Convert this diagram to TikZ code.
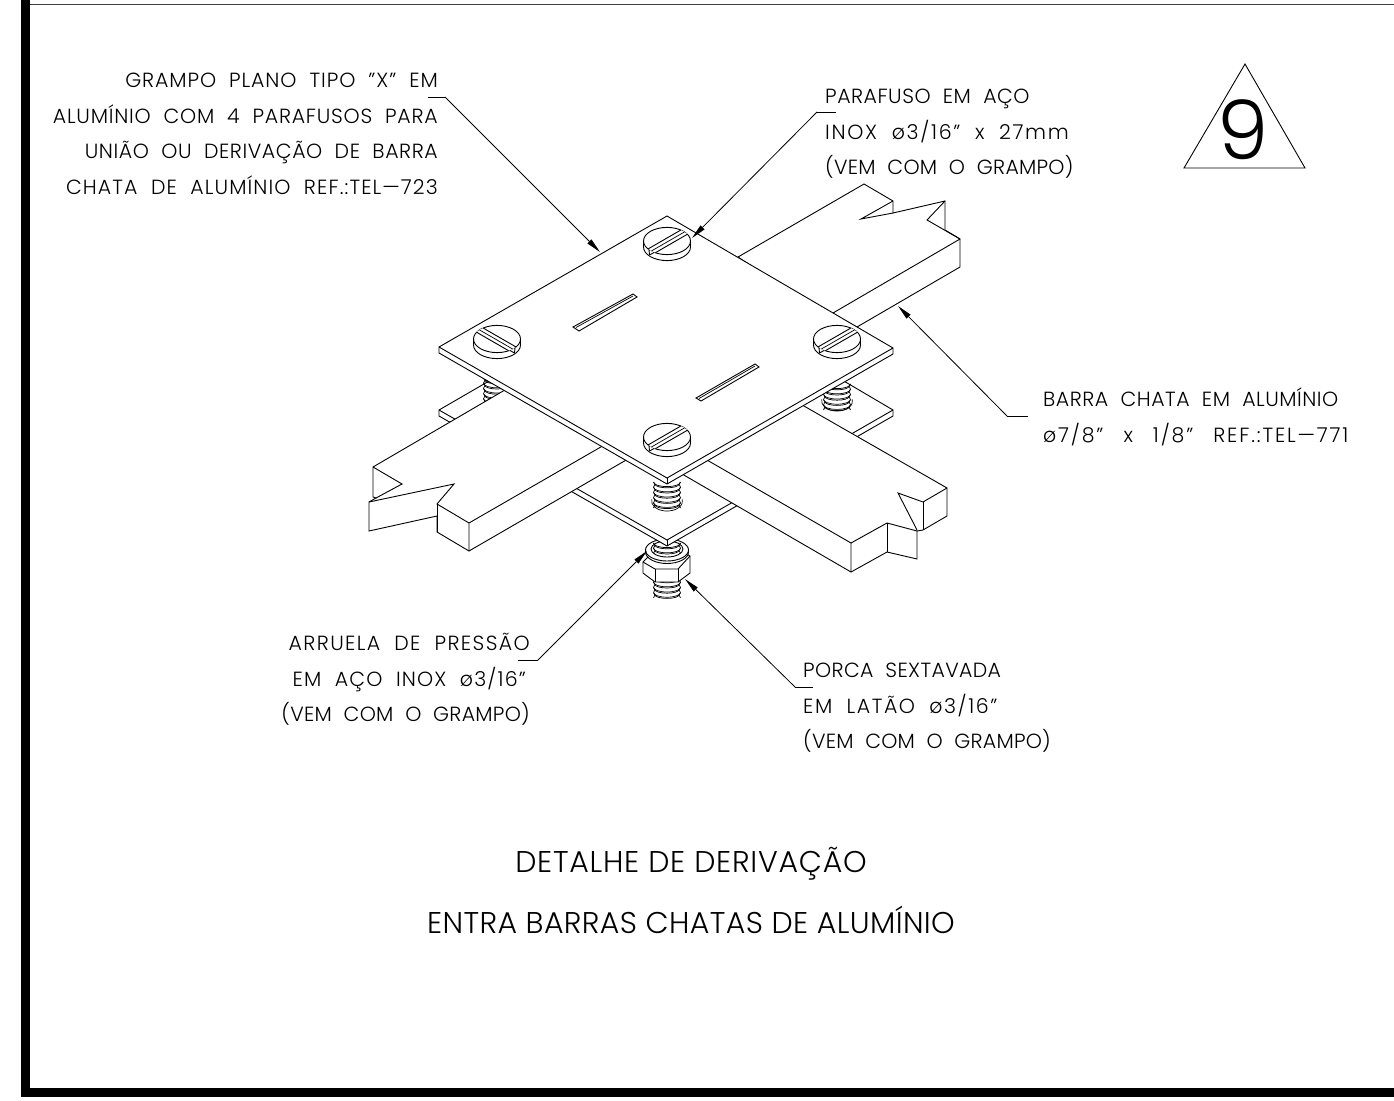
\documentclass[tikz,border=0pt]{standalone}
\usepackage{fontspec}
\setmainfont{Poppins}[UprightFont=* Light,LetterSpace=2.5]
\newfontfamily\digitfont{Poppins}[UprightFont=* Light]
\usetikzlibrary{arrows.meta}
\newcommand{\ls}[2]{{\addfontfeature{LetterSpace=#1}#2}}
\newcommand{\wg}{\hspace{20pt}}
\tikzset{
  part/.style={draw=black,line width=0.9pt,line join=miter,fill=white},
  edge/.style={draw=black,line width=0.9pt},
  fineline/.style={draw=black,line width=0.7pt},
  leader/.style={draw=black,line width=0.8pt},
  leadertip/.style={leader,-{Triangle[length=15pt,width=5.5pt]}},
  lab/.style={inner sep=0pt,font=\fontsize{20.5}{20.5}\selectfont},
  titletext/.style={inner sep=0pt,font=\fontsize{30}{30}\selectfont}
}
\newcommand{\screwhead}[3]{%
  \begin{scope}[shift={(#1,#2)},xscale=#3]
    \path[part] (-23.5,0) -- (-23.5,6) arc[start angle=180,end angle=0,x radius=23.5,y radius=13.6] -- (23.5,0) arc[start angle=0,end angle=-180,x radius=23.5,y radius=13.6] -- cycle;
    \draw[edge] (-23.5,0) arc[start angle=180,end angle=0,x radius=23.5,y radius=13.6];
    \begin{scope}
      \clip (0,0) ellipse[x radius=23.5,y radius=13.6];
      \fill[white] (-30,14.3) -- (30,-20.3) -- (30,-12.3) -- (-30,22.3) -- cycle;
      \draw[edge] (-30,14.3) -- (30,-20.3);
      \draw[fineline] (-30,18.3) -- (30,-16.3);
      \draw[edge] (-30,22.3) -- (30,-12.3);
    \end{scope}
    \fill[white] (-17.5,9.5) -- (-13.5,11.5) -- (-13,16) -- (-17.5,13.5) -- cycle;
    \draw[edge] (-18,8.5) -- (-17.5,14);
    \draw[edge] (-17.5,14) -- (-13,11.5);
  \end{scope}}
\newcommand{\threadrod}[3]{%
  \begin{scope}[shift={(#1,#2)}]
    \foreach \k in {0,...,#3}{
      \draw[fineline] (-13.5,{\k*5.2}) arc[start angle=180,end angle=0,x radius=13.5,y radius=4.6];
      \draw[fineline] (-12,{\k*5.2+2.2}) arc[start angle=180,end angle=0,x radius=12,y radius=3.6];
      \draw[fineline] (-13.5,{\k*5.2}) -- (-12,{\k*5.2+2.2});
      \draw[fineline] (13.5,{\k*5.2}) -- (12,{\k*5.2+2.2});
      \draw[fineline] (-12,{\k*5.2+2.2}) -- (-13.5,{\k*5.2+5.2});
      \draw[fineline] (12,{\k*5.2+2.2}) -- (13.5,{\k*5.2+5.2});
    }
  \end{scope}}
\newcommand{\threadbase}[2]{%
  \draw[fineline] ({#1-15.2},{#2-1.7}) arc[start angle=190,end angle=-10,x radius=15.5,y radius=10];}
\begin{document}
\begin{tikzpicture}[x=1pt,y=-1pt]
\useasboundingbox (0,0) rectangle (1394,1100);
\fill[white] (0,0) rectangle (1394,1100);
% frame
\draw[line width=1.2pt,black!75] (22,4.3) -- (1394,4.3);
\fill[black] (21,0) rectangle (29.5,1097);
\fill[black] (21,1087.7) rectangle (1394,1097);
% triangle
\draw[line width=0.9pt,line join=miter] (1245,64) -- (1184,168) -- (1305,168) -- cycle;
\node[inner sep=0pt,anchor=base,font=\fontsize{82}{82}\selectfont\digitfont] (nine) at (1243,159) {9};
% nut and washer
\threadrod{667}{577}{3}
\path[part] (643,562) -- (650,555) -- (685,553) -- (690,556) -- (690,573) -- (678,582) -- (655,582) -- (643,573) -- cycle;
\draw[edge] (643,562) -- (655,569) -- (678,569) -- (690,556);
\draw[edge] (655,569) -- (655,582);
\draw[edge] (678,569) -- (678,582);
\path[part] (667,552) ellipse[x radius=21.5,y radius=11.5];
\path[part] (667,550) ellipse[x radius=21.5,y radius=11];
\path[part] (667,549) ellipse[x radius=16,y radius=8];
\threadrod{667}{543}{1}
% lower plate
\path[part] (439,410) -- (553,344) -- (781,344) -- (893,410) -- (893,416) -- (667,546) -- (439,416) -- cycle;
\draw[edge] (439,410) -- (667,540) -- (893,410);
\draw[edge] (667,540) -- (667,546);
% threads between plates
\threadbase{837}{401}
\threadrod{837}{384}{4}
\threadrod{497}{378}{5}
\threadbase{667}{501}
\threadrod{667}{482}{4}
% back bar
\path[part] (738,257) -- (864,184) -- (893,201) -- (893,213) -- (945,201) -- (945,230) -- (960,239) -- (960,267) -- (857,327) -- (800,300) -- cycle;
\draw[edge] (893,201) -- (861,219) -- (893,213);
\draw[edge] (945,201) -- (927,220) -- (960,239);
\draw[edge] (960,239) -- (833,313);
% left bar
\path[part] (373,467) -- (510,387) -- (640,452) -- (469,551) -- (437,532) -- (437,516) -- (369,531) -- (369,502) -- (376,498) -- (373,497) -- cycle;
\draw[edge] (373,467) -- (402,484) -- (376,498);
\draw[edge] (369,502) -- (454,484) -- (437,504) -- (469,523) -- (469,551);
\draw[edge] (437,504) -- (437,532);
\draw[edge] (469,523) -- (606,444);
% right bar
\path[part] (790,398) -- (947,488) -- (947,516) -- (923,530) -- (917,531) -- (917,559) -- (887,552) -- (851,572) -- (670,467) -- cycle;
\draw[edge] (947,488) -- (923,502) -- (898,493) -- (917,530);
\draw[edge] (923,502) -- (923,530);
\draw[edge] (700,456) -- (851,543) -- (851,572);
\draw[edge] (851,543) -- (887,523) -- (917,531);
\draw[edge] (887,523) -- (887,552);
% top plate
\path[part] (667,216) -- (893,348) -- (893,354) -- (667,484) -- (439,353) -- (439,347) -- cycle;
\draw[edge] (439,347) -- (667,478) -- (893,348);
\draw[edge] (667,478) -- (667,484);
% slots
\draw[edge] (573,327) -- (633,294) -- (637,297) -- (579,331) -- cycle;
\draw[fineline] (576,327.5) -- (633,296);
\draw[edge] (696,398) -- (755,364) -- (759,367) -- (701,401) -- cycle;
\draw[fineline] (699,398.5) -- (755,366);
% heads
\screwhead{667}{241}{1}
\screwhead{497}{339}{-1}
\screwhead{837}{339}{1}
\screwhead{667}{437}{1}
% labels
\node[lab,anchor=base east] (g1) at (438,87) {\ls{4.4}{GRAMPO\ \ PLANO\ \ TIPO\ \ ”X”\ \ EM}};
\node[lab,anchor=base east] (g2) at (438,123) {\ls{3.8}{ALUMÍNIO\ \ COM\ \ 4\ \ PARAFUSOS\ \ PARA}};
\node[lab,anchor=base east] (g3) at (438,158.5) {\ls{2.8}{UNIÃO\ \ OU\ \ DERIVAÇÃO\ \ DE\ \ BARRA}};
\node[lab,anchor=base east] (g4) at (438,194) {\ls{5.4}{CHATA\ \ DE\ \ ALUMÍNIO\ \ REF.:TEL---723}};
\node[lab,anchor=base west] (p1) at (825,103) {PARAFUSO\ \ EM\ \ AÇO};
\node[lab,anchor=base west] (p2) at (825,139) {\ls{8.3}{INOX\ \ ø3/16”\ \ x\ \ 27mm}};
\node[lab,anchor=base west] (p3) at (825,174) {\ls{1.3}{(VEM\ \ COM\ \ O\ \ GRAMPO)}};
\node[lab,anchor=base west] (b1) at (1043,406) {BARRA\ \ CHATA\ \ EM\ \ ALUMÍNIO};
\node[lab,anchor=base west] (b2) at (1043,442) {\ls{9}{ø7/8”\wg x\wg 1/8”\wg REF.:TEL---771}};
\node[lab,anchor=base east] (a1) at (530,650) {\ls{6.8}{ARRUELA\ \ DE\ \ PRESSÃO}};
\node[lab,anchor=base east] (a2) at (526,686) {\ls{5.6}{EM\ \ AÇO\ \ INOX\ \ ø3/16”}};
\node[lab,anchor=base east] (a3) at (530,721) {\ls{1.3}{(VEM\ \ COM\ \ O\ \ GRAMPO)}};
\node[lab,anchor=base west] (n1) at (803,677.5) {\ls{1.7}{PORCA\ \ SEXTAVADA}};
\node[lab,anchor=base west] (n2) at (803,713) {\ls{7.6}{EM\ \ LATÃO\ \ ø3/16”}};
\node[lab,anchor=base west] (n3) at (803,748) {\ls{1.1}{(VEM\ \ COM\ \ O\ \ GRAMPO)}};
\node[titletext,anchor=base] (t1) at (691,872) {DETALHE DE DERIVAÇÃO};
\node[titletext,anchor=base] (t2) at (691,933) {\ls{1.3}{ENTRA BARRAS CHATAS DE ALUMÍNIO}};
% leaders
\coordinate (e1) at (428,97);
\coordinate (e1a) at (445,97);
\coordinate (e1b) at (600,252);
\coordinate (e2) at (836,112);
\coordinate (e2a) at (817,112);
\coordinate (e2b) at (692,238);
\coordinate (e3) at (1028,416);
\coordinate (e3a) at (1007,416);
\coordinate (e3b) at (898,306);
\coordinate (e4) at (518,660);
\coordinate (e4a) at (538,660);
\coordinate (e4b) at (647,551);
\coordinate (e5) at (813,687);
\coordinate (e5a) at (795,687);
\coordinate (e5b) at (685,579);
\draw[leader] (e1) -- (e1a);
\draw[leadertip] (e1a) -- (e1b);
\draw[leader] (e2) -- (e2a);
\draw[leadertip] (e2a) -- (e2b);
\draw[leader] (e3) -- (e3a);
\draw[leadertip] (e3a) -- (e3b);
\draw[leader] (e4) -- (e4a);
\draw[leadertip] (e4a) -- (e4b);
\draw[leader] (e5) -- (e5a);
\draw[leadertip] (e5a) -- (e5b);
\end{tikzpicture}
\end{document}
